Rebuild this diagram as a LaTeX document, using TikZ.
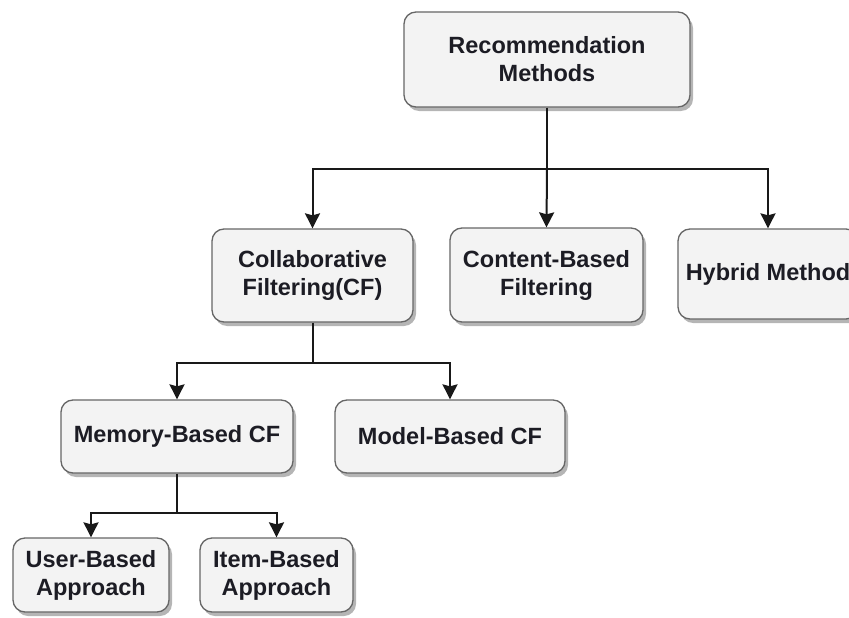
\documentclass[tikz,border=0pt]{standalone}
\usepackage{fontspec}
\setmainfont{Liberation Sans}
\usetikzlibrary{arrows.meta,shadows}
\definecolor{boxfill}{HTML}{F3F3F3}
\definecolor{boxline}{HTML}{666666}
\definecolor{shadowc}{HTML}{B5B5B5}
\definecolor{txt}{HTML}{1C1C24}
\tikzset{
  box/.style={draw=boxline, line width=1.3pt, fill=boxfill, rounded corners=12pt,
    align=center, inner sep=0pt, text=txt,
    font=\fontsize{23.5}{28}\selectfont\bfseries,
    drop shadow={shadow xshift=3pt, shadow yshift=-4pt, fill=shadowc, opacity=1}},
  link/.style={line width=2pt, draw=black!90},
  arr/.style={link, -{Stealth[width=15pt,length=15pt,inset=2pt]}}
}
\begin{document}
\begin{tikzpicture}[x=1pt,y=-1pt]
\useasboundingbox (0,0) rectangle (849,618);
\clip (0,0) rectangle (849,618);
\node[box, minimum width=286pt, minimum height=95pt] (rm) at (547,59.5) {Recommendation\\Methods};
\node[box, minimum width=201pt, minimum height=93pt] (cf) at (312.5,275.5) {Collaborative\\Filtering(CF)};
\node[box, minimum width=193pt, minimum height=94pt] (cb) at (546.5,275) {Content-Based\\Filtering};
\node[box, minimum width=180pt, minimum height=90pt] (hy) at (768,274) {Hybrid Method};
\node[box, minimum width=232pt, minimum height=73pt] (mem) at (177,436.5) {Memory-Based CF};
\node[box, minimum width=230pt, minimum height=73pt] (mod) at (450,436.5) {Model-Based CF};
\node[box, minimum width=156pt, minimum height=74pt] (ub) at (91,575) {User-Based\\Approach};
\node[box, minimum width=153pt, minimum height=74pt] (ib) at (276.5,575) {Item-Based\\Approach};
\coordinate (j1) at (547,169);
\coordinate (j2) at (312.5,363);
\coordinate (j3) at (177,513);
\draw[link] (rm.south) -- (j1);
\draw[arr] (j1) -| (cf.north);
\draw[arr] (j1) -- (cb.north);
\draw[arr] (j1) -| (hy.north);
\draw[link] (cf.south) -- (j2);
\draw[arr] (j2) -| (mem.north);
\draw[arr] (j2) -| (mod.north);
\draw[link] (mem.south) -- (j3);
\draw[arr] (j3) -| (ub.north);
\draw[arr] (j3) -| (ib.north);
\end{tikzpicture}
\end{document}
